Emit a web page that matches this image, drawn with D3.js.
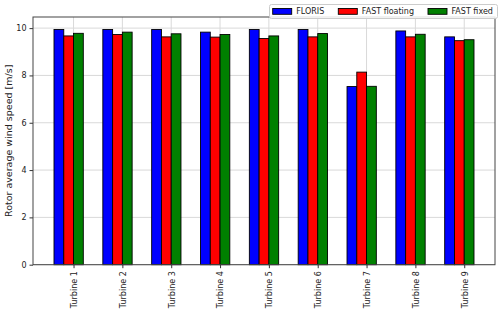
<!DOCTYPE html>
<html>
<head>
<meta charset="utf-8">
<script src="https://cdn.jsdelivr.net/npm/d3@7"></script>
<style>
  body { margin: 0; background: #fff; }
  text { font-family: "DejaVu Sans", sans-serif; fill: #222; }
</style>
</head>
<body>
<svg width="500" height="312"></svg>
<script>
// values
const turbines = ['Turbine 1', 'Turbine 2', 'Turbine 3', 'Turbine 4', 'Turbine 5',
                  'Turbine 6', 'Turbine 7', 'Turbine 8', 'Turbine 9'];
const floris = [9.94, 9.94, 9.94, 9.83, 9.94, 9.94, 7.53, 9.88, 9.63];
const fastFloating = [9.67, 9.73, 9.63, 9.62, 9.56, 9.63, 8.14, 9.63, 9.47];
const fastFixed = [9.78, 9.83, 9.76, 9.73, 9.67, 9.77, 7.54, 9.74, 9.51];
const seriesNames = ['FLORIS', 'FAST floating', 'FAST fixed'];
const yTicks = [0, 2, 4, 6, 8, 10];

const colors = ['#0000ff', '#ff0000', '#008000'];
const series = [floris, fastFloating, fastFixed];
const barW = 0.2;

const svg = d3.select('svg');
const pLeft = 33, pRight = 495, pTop = 17, pBottom = 264.7;

const x = d3.scaleLinear().domain([-0.83, 8.63]).range([pLeft, pRight]);
const y = d3.scaleLinear().domain([0, 10.47]).range([pBottom, pTop]);

// grid
svg.append('g')
    .selectAll('line')
    .data(yTicks)
    .join('line')
    .attr('x1', pLeft).attr('x2', pRight)
    .attr('y1', d => y(d)).attr('y2', d => y(d))
    .attr('stroke', '#d9d9d9').attr('stroke-width', 1);
svg.append('g')
    .selectAll('line')
    .data(turbines)
    .join('line')
    .attr('x1', (d, i) => x(i)).attr('x2', (d, i) => x(i))
    .attr('y1', pTop).attr('y2', pBottom)
    .attr('stroke', '#d9d9d9').attr('stroke-width', 1);

// bars
svg.selectAll('g.series')
    .data(series)
    .join('g')
    .attr('class', 'series')
    .attr('fill', (d, s) => colors[s])
    .each(function (vals, s) {
        d3.select(this).selectAll('rect')
            .data(vals)
            .join('rect')
            .attr('x', (v, i) => x(i - 0.4 + s * barW))
            .attr('width', x(barW) - x(0))
            .attr('y', v => y(v))
            .attr('height', v => y(0) - y(v))
            .attr('stroke', '#000')
            .attr('stroke-width', 0.9);
    });

// axes
const yAxis = svg.append('g')
    .attr('transform', `translate(${pLeft},0)`)
    .call(d3.axisLeft(y).tickValues(yTicks).tickSize(3.5).tickPadding(3));
const xAxis = svg.append('g')
    .attr('transform', `translate(0,${pBottom})`)
    .call(d3.axisBottom(x).tickValues(d3.range(turbines.length))
        .tickFormat(i => turbines[i]).tickSize(3.5).tickPadding(3));
[xAxis, yAxis].forEach(a => {
    a.select('.domain').remove();
    a.selectAll('.tick line').attr('stroke', '#333');
    a.selectAll('text').style('font-size', '8px').attr('fill', '#222');
});
xAxis.selectAll('text')
    .attr('text-anchor', 'end')
    .attr('transform', 'rotate(-90)')
    .attr('x', -6.5).attr('y', 0).attr('dy', '0.35em');

svg.append('rect')
    .attr('x', pLeft).attr('y', pTop)
    .attr('width', pRight - pLeft).attr('height', pBottom - pTop)
    .attr('fill', 'none').attr('stroke', '#444').attr('stroke-width', 1);

svg.append('text')
    .attr('transform', `translate(12,${(pTop + pBottom) / 2}) rotate(-90)`)
    .attr('text-anchor', 'middle')
    .style('font-size', '9.5px')
    .text('Rotor average wind speed [m/s]');

// legend
const legend = svg.append('g');
legend.append('rect')
    .attr('x', 269.5).attr('y', 4.5).attr('width', 228).attr('height', 14)
    .attr('rx', 2).attr('fill', '#fff').attr('fill-opacity', 0.85)
    .attr('stroke', '#ccc').attr('stroke-width', 1);
const legendX = [272.7, 338.3, 428];
const items = legend.selectAll('g.item')
    .data(seriesNames)
    .join('g')
    .attr('transform', (d, i) => `translate(${legendX[i]},0)`);
items.append('rect')
    .attr('x', 0).attr('y', 8.5).attr('width', 19).attr('height', 5.8)
    .attr('fill', (d, i) => colors[i])
    .attr('stroke', '#000').attr('stroke-width', 0.9);
items.append('text')
    .attr('x', 23.5).attr('y', 14.3)
    .style('font-size', '8px')
    .text(d => d);
</script>
</body>
</html>
